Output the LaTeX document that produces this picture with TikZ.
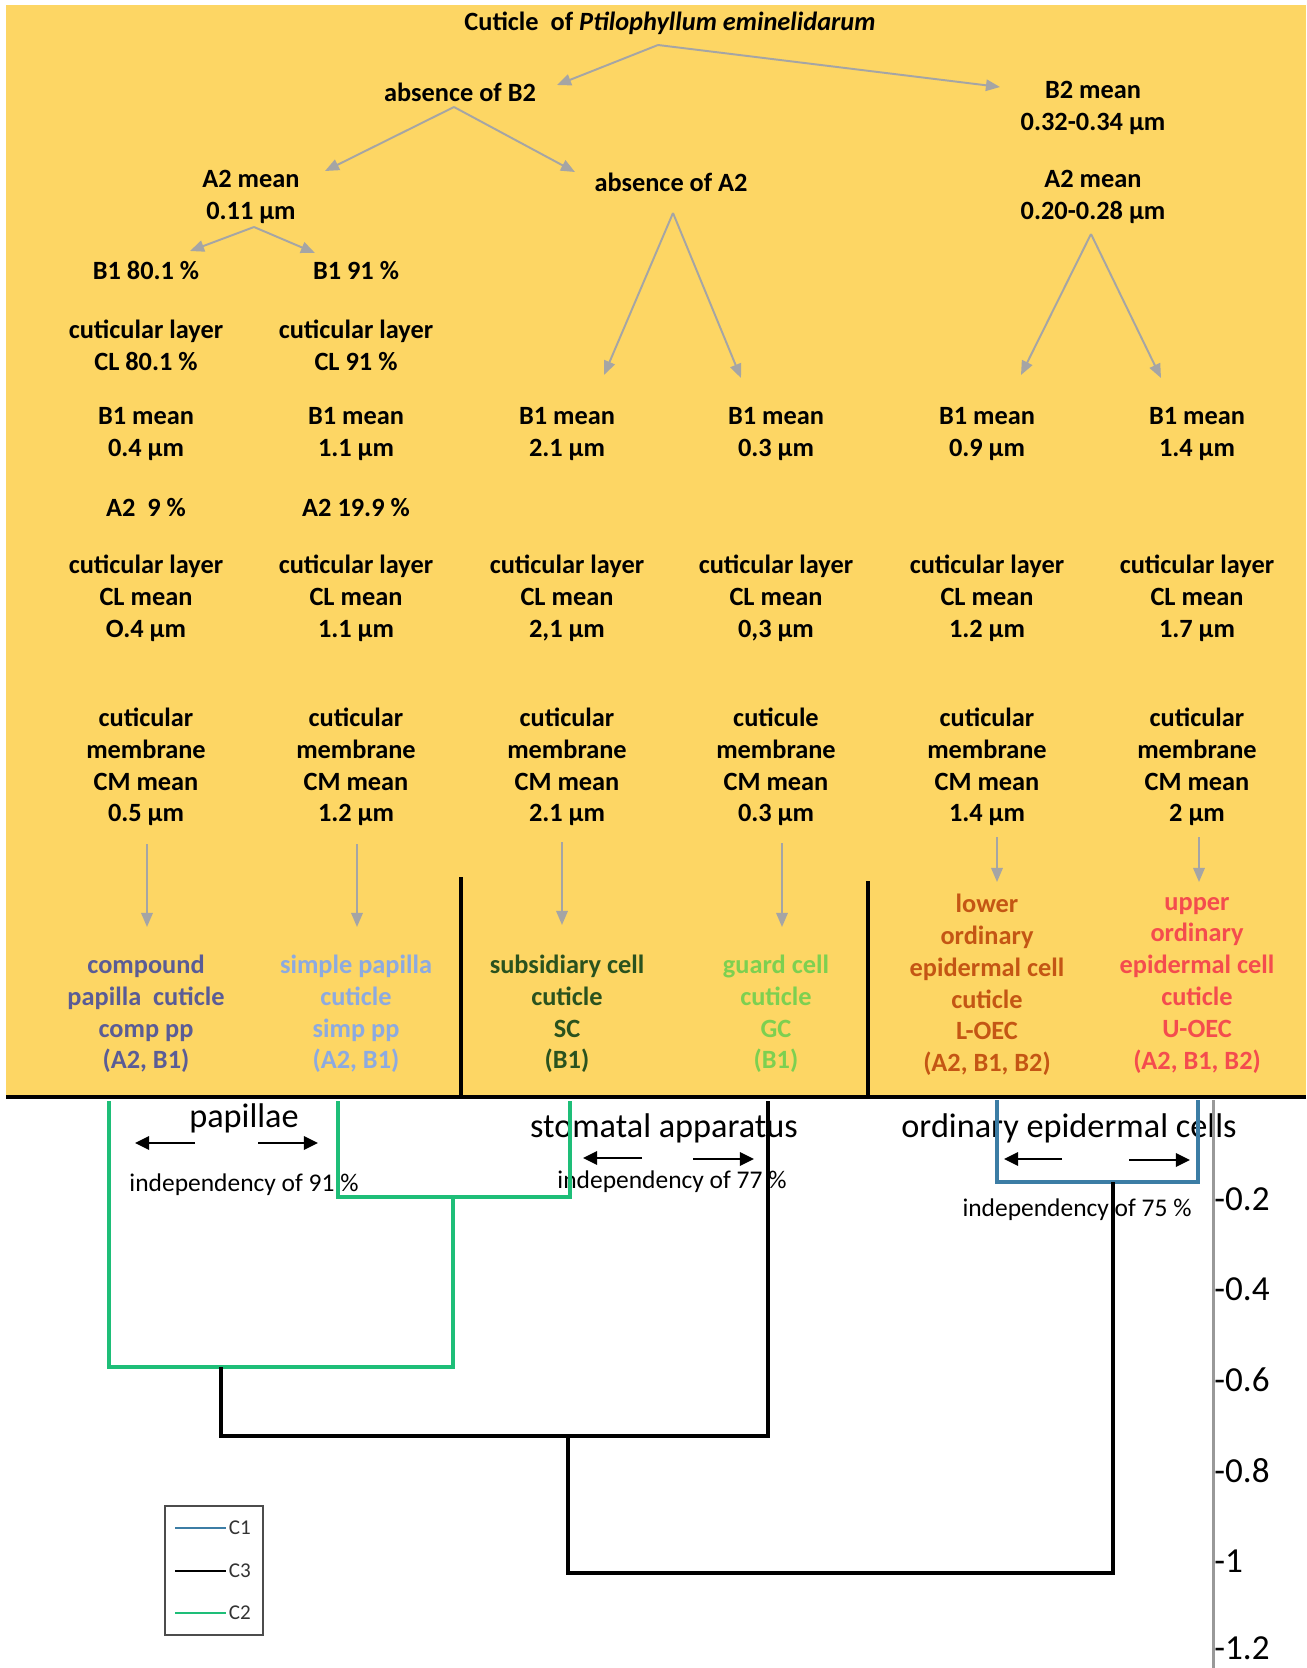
\documentclass[tikz,border=0pt]{standalone}
\usepackage{fontspec}
\setmainfont{Carlito}
\usetikzlibrary{arrows.meta}

\definecolor{bgyellow}{RGB}{253,214,100}
\definecolor{arrgray}{RGB}{165,165,165}
\definecolor{compc}{RGB}{90,92,150}
\definecolor{simpc}{RGB}{140,170,225}
\definecolor{subsc}{RGB}{42,82,30}
\definecolor{guardc}{RGB}{125,208,80}
\definecolor{lowerc}{RGB}{196,86,20}
\definecolor{upperc}{RGB}{244,76,78}
\definecolor{clone}{RGB}{60,125,165}
\definecolor{cltwo}{RGB}{30,190,120}

\tikzset{
    txt/.style={font=\fontsize{15}{18.1}\selectfont\bfseries, align=center, inner sep=1pt},
    garrow/.style={draw=arrgray, line width=1.1pt, -{Triangle[length=8pt,width=6.5pt]}},
    harrow/.style={line width=1.6pt, -{Triangle[length=8pt,width=7.5pt]}},
    grplbl/.style={font=\fontsize{19.5}{22}\selectfont, inner sep=0pt},
    indlbl/.style={font=\fontsize{14.5}{17}\selectfont, inner sep=0pt},
    axlbl/.style={font=\fontsize{20}{22}\selectfont, inner sep=0pt, anchor=west},
    leglbl/.style={font=\fontsize{12}{14}\selectfont, text=black!80, inner sep=1pt, anchor=west},
    branch/.style={line width=2.3pt}
}

\begin{document}
\begin{tikzpicture}[x=0.02cm, y=-0.02cm]
    \useasboundingbox (0,0) rectangle (1306,1668);
    \fill[bgyellow] (6,5) rectangle (1306,1095);

    \node[txt] (title) at (670,23)  {Cuticle\ \ of \textit{Ptilophyllum eminelidarum}};
    \node[txt] (absB2) at (460,92)  {absence of B2};
    \node[txt] (b2m)   at (1093,108) {B2 mean\\0.32-0.34 µm};
    \node[txt] (a2m)   at (251,197) {A2 mean\\0.11 µm};
    \node[txt] (absA2) at (671,182) {absence of A2};
    \node[txt] (a2r)   at (1093,197) {A2 mean\\0.20-0.28 µm};

    \node[txt] (pctA) at (146,271) {B1 80.1 \%};
    \node[txt] (pctB) at (356,271) {B1 91 \%};
    \node[txt] (clA)  at (146,345) {cuticular layer\\CL 80.1 \%};
    \node[txt] (clB)  at (356,345) {cuticular layer\\CL 91 \%};
    \node[txt] (a2A)  at (146,508) {A2\ \ 9 \%};
    \node[txt] (a2B)  at (356,508) {A2 19.9 \%};

    \foreach \n/\x/\bm/\cl/\cw/\cm in {A/146/0.4/O.4/cuticular/0.5,
                                       B/356/1.1/1.1/cuticular/1.2,
                                       C/567/2.1/{2,1}/cuticular/2.1,
                                       D/776/0.3/{0,3}/cuticule/0.3,
                                       E/987/0.9/1.2/cuticular/1.4,
                                       F/1197/1.4/1.7/cuticular/2} {
        \node[txt] (bm\n)  at (\x,434) {B1 mean\\\bm\ µm};
        \node[txt] (clm\n) at (\x,598) {cuticular layer\\CL mean\\\cl\ µm};
        \node[txt] (cm\n)  at (\x,767) {\cw\\membrane\\CM mean\\\cm\ µm};
    }

    \node[txt, text=compc]  (cellA) at (146,1014) {compound\\papilla\ \ cuticle\\comp pp\\(A2, B1)};
    \node[txt, text=simpc]  (cellB) at (356,1014) {simple papilla\\cuticle\\simp pp\\(A2, B1)};
    \node[txt, text=subsc]  (cellC) at (567,1014) {subsidiary cell\\cuticle\\SC\\(B1)};
    \node[txt, text=guardc] (cellD) at (776,1014) {guard cell\\cuticle\\GC\\(B1)};
    \node[txt, text=lowerc] (cellE) at (987,985)  {lower\\ordinary\\epidermal cell\\cuticle\\L-OEC\\(A2, B1, B2)};
    \node[txt, text=upperc] (cellF) at (1197,985) {upper\\ordinary\\epidermal cell\\cuticle\\U-OEC\\(A2, B1, B2)};

    \draw[garrow] ([shift={(-12,22)}]title.center) -- ([shift={(97,-7)}]absB2.center);
    \draw[garrow] ([shift={(-12,22)}]title.center) -- ([shift={(-93,-21)}]b2m.center);
    \draw[garrow] ([shift={(-6,15)}]absB2.center)  -- ([shift={(74,-26)}]a2m.center);
    \draw[garrow] ([shift={(-6,15)}]absB2.center)  -- ([shift={(-96,-10)}]absA2.center);
    \draw[garrow] ([shift={(3,30)}]a2m.center)     -- ([shift={(44,-20)}]pctA.center);
    \draw[garrow] ([shift={(3,30)}]a2m.center)     -- ([shift={(-41,-18)}]pctB.center);
    \draw[garrow] ([shift={(2,31)}]absA2.center)   -- ([shift={(37,-59)}]bmC.center);
    \draw[garrow] ([shift={(2,31)}]absA2.center)   -- ([shift={(-35,-56)}]bmD.center);
    \draw[garrow] ([shift={(-2,37)}]a2r.center)    -- ([shift={(34,-59)}]bmE.center);
    \draw[garrow] ([shift={(-2,37)}]a2r.center)    -- ([shift={(-36,-56)}]bmF.center);

    \foreach \n/\dx/\top/\tip in {A/1/77/-87, B/1/77/-87, C/-5/75/-89,
                                  D/6/76/-87, E/10/70/-103, F/2/70/-103}
        \draw[garrow] ([shift={(\dx,\top)}]cm\n.center) -- ([shift={(\dx,\tip)}]cell\n.center);

    \draw[line width=2pt] (461,877) -- (461,1095);
    \draw[line width=2pt] (868,881) -- (868,1095);

    \node[grplbl] (papL) at (244,1118) {papillae};
    \node[grplbl] (stoL) at (664,1128) {stomatal apparatus};
    \node[grplbl] (oecL) at (1069,1128) {ordinary epidermal cells};
    \node[indlbl] (ind1) at (244,1185) {independency of 91 \%};
    \node[indlbl] (ind2) at (672,1182) {independency of 77 \%};
    \node[indlbl] (ind3) at (1077,1210) {independency of 75 \%};

    \foreach \xa/\xb/\y in {195/135/1143, 258/318/1143, 642/583/1158,
                            693/754/1159, 1062/1004/1159, 1129/1190/1160}
        \draw[harrow] (\xa,\y) -- (\xb,\y);

    \draw[branch, cltwo] (109,1101) -- (109,1367) -- (453,1367) -- (453,1197);
    \draw[branch, cltwo] (338,1101) -- (338,1197) -- (570,1197) -- (570,1101);
    \draw[branch, clone] (997,1100) -- (997,1182) -- (1198,1182) -- (1198,1100);
    \draw[branch] (221,1367) -- (221,1436) -- (768,1436) -- (768,1101);
    \draw[branch] (568,1436) -- (568,1573) -- (1113,1573) -- (1113,1182);

    \draw[gray!80, line width=1.7pt] (1213,1100) -- (1213,1668);
    \foreach \v/\y in {-0.2/1199, -0.4/1289, -0.6/1380, -0.8/1471, -1/1561, -1.2/1648}
        \node[axlbl] (ax\y) at (1214,\y) {\v};

    \draw[line width=2.8pt] (6,1097) -- (1306,1097);

    \draw[gray!60!black, line width=0.8pt] (165,1506) rectangle (263,1635);
    \draw[clone, line width=1.4pt] (175,1528) -- (226,1528) node[leglbl] (legC1) {C1};
    \draw[line width=1.4pt]        (175,1571) -- (226,1571) node[leglbl] (legC3) {C3};
    \draw[cltwo, line width=1.4pt] (175,1613) -- (226,1613) node[leglbl] (legC2) {C2};
\end{tikzpicture}
\end{document}
